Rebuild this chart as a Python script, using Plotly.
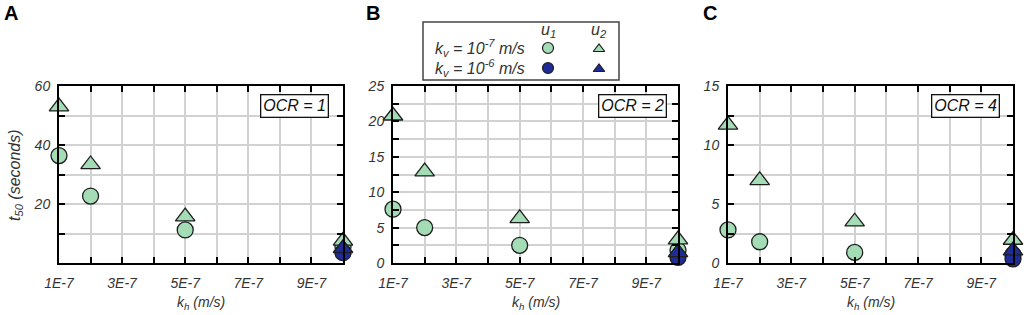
import plotly.graph_objects as go

# ---------------- data ----------------
kh = [1e-7, 2e-7, 5e-7, 1e-6]

# OCR = 1
A_u1_kv7 = [36.4, 22.7, 11.2, 5.5]
A_u2_kv7 = [53.0, 33.4, 15.7, 7.5]
A_u1_kv6 = [3.5]
A_u2_kv6 = [5.0]

# OCR = 2
B_u1_kv7 = [7.6, 5.0, 2.5, 1.8]
B_u2_kv7 = [20.8, 12.9, 6.3, 3.3]
B_u1_kv6 = [0.8]
B_u2_kv6 = [1.5]

# OCR = 4
C_u1_kv7 = [2.8, 1.8, 0.9, 0.7]
C_u2_kv7 = [11.7, 7.0, 3.5, 1.95]
C_u1_kv6 = [0.35]
C_u2_kv6 = [1.05]

kh_kv6 = [1e-6]

panel_letters = ["A", "B", "C"]
ocr_labels = ["OCR = 1", "OCR = 2", "OCR = 4"]
y_max = [60, 25, 15]
y_minor_step = [10, 2.5, 2.5]
y_label_vals = [[20, 40, 60], [0, 5, 10, 15, 20, 25], [0, 5, 10, 15]]
x_label_vals = [1e-7, 3e-7, 5e-7, 7e-7, 9e-7]
x_label_text = ["1E-7", "3E-7", "5E-7", "7E-7", "9E-7"]
x_minor_step = 1e-7

# ---------------- style ----------------
W, H = 1024, 315
GREEN = "#a3dcb5"
BLUE = "#1f2c97"
EDGE = "#1e1e1e"
FONT = "Liberation Sans"
TXT = "#333333"

# pixel boxes of each plot: (left, right)
px_x = [(59, 343), (393, 678), (728, 1013)]
px_top, px_bot = 86, 263


def px2x(p):
    return p / W


def px2y(p):
    return (H - p) / H


fig = go.Figure()
fig.update_layout(template="none")

series = [
    (A_u1_kv7, A_u2_kv7, A_u1_kv6, A_u2_kv6),
    (B_u1_kv7, B_u2_kv7, B_u1_kv6, B_u2_kv6),
    (C_u1_kv7, C_u2_kv7, C_u1_kv6, C_u2_kv6),
]

CIRC = dict(symbol="circle", size=16, line=dict(color=EDGE, width=1.3))
TRI = dict(symbol="triangle-up", size=17, line=dict(color=EDGE, width=1.3))

for i, (u1a, u2a, u1b, u2b) in enumerate(series):
    xa = "x" if i == 0 else f"x{i+1}"
    ya = "y" if i == 0 else f"y{i+1}"
    common = dict(mode="markers", xaxis=xa, yaxis=ya, showlegend=False,
                  cliponaxis=False)
    fig.add_trace(go.Scatter(x=kh, y=u1a, marker=dict(color=GREEN, **CIRC), **common))
    fig.add_trace(go.Scatter(x=kh, y=u2a, marker=dict(color=GREEN, **TRI), **common))
    fig.add_trace(go.Scatter(x=kh_kv6, y=u1b, marker=dict(color=BLUE, **CIRC), **common))
    fig.add_trace(go.Scatter(x=kh_kv6, y=u2b, marker=dict(color=BLUE, **TRI), **common))

    axis_common = dict(showline=True, linecolor="black", linewidth=2, mirror="allticks",
                       ticks="inside", ticklen=6, tickwidth=2, tickcolor="black",
                       showgrid=True, gridcolor="#d2d2d2", gridwidth=1.5, zeroline=False,
                       automargin=False, tickmode="array",
                       tickfont=dict(family=FONT, size=14, color=TXT, style="italic"))
    xkey = "xaxis" if i == 0 else f"xaxis{i+1}"
    ykey = "yaxis" if i == 0 else f"yaxis{i+1}"
    fig.update_layout(**{
        xkey: dict(domain=[px2x(px_x[i][0]), px2x(px_x[i][1])], range=[1e-7, 1e-6],
                   tickvals=x_label_vals, ticktext=x_label_text,
                   minor=dict(tick0=0, dtick=x_minor_step, ticks="inside", ticklen=6,
                              tickwidth=2, tickcolor="black", showgrid=True,
                              gridcolor="#d2d2d2", gridwidth=1.5),
                   anchor=ya, ticklabelstandoff=6, **axis_common),
        ykey: dict(domain=[px2y(px_bot), px2y(px_top)], range=[0, y_max[i]],
                   tickvals=y_label_vals[i], ticktext=[str(v) for v in y_label_vals[i]],
                   minor=dict(tick0=0, dtick=y_minor_step[i], ticks="inside", ticklen=6,
                              tickwidth=2, tickcolor="black", showgrid=True,
                              gridcolor="#d2d2d2", gridwidth=1.5),
                   anchor=xa, ticklabelstandoff=4, **axis_common),
    })

    # x-axis title
    cx = (px_x[i][0] + px_x[i][1]) / 2
    fig.add_annotation(x=px2x(cx), y=px2y(303), xref="paper", yref="paper",
                       text="k<sub>h</sub> (m/s)", showarrow=False,
                       font=dict(family=FONT, size=14, color=TXT, style="italic"),
                       xanchor="center", yanchor="middle")

    # OCR box
    ocr_cx = [294, 632, 965][i]
    fig.add_annotation(x=px2x(ocr_cx), y=px2y(106), xref="paper", yref="paper",
                       text=ocr_labels[i], showarrow=False,
                       font=dict(family=FONT, size=16, color="#111111", style="italic"),
                       bgcolor="white", bordercolor="#111111", borderwidth=1.3, borderpad=2,
                       xanchor="center", yanchor="middle")

    # panel letter
    fig.add_annotation(x=px2x([2, 364, 701][i]), y=px2y(13), xref="paper", yref="paper",
                       text=f"<b>{panel_letters[i]}</b>", showarrow=False,
                       font=dict(family=FONT, size=20, color="black"),
                       xanchor="left", yanchor="middle")

# y-axis title
fig.add_annotation(x=px2x(15), y=px2y(175), xref="paper", yref="paper",
                   text="t<sub>50</sub> (seconds)", showarrow=False, textangle=-90,
                   font=dict(family=FONT, size=16, color=TXT, style="italic"),
                   xanchor="center", yanchor="middle")

# ---------------- custom legend ----------------
leg_box = (423, 619, 22, 80)
fig.add_shape(type="rect", xref="paper", yref="paper",
              x0=px2x(leg_box[0]), x1=px2x(leg_box[1]),
              y0=px2y(leg_box[3]), y1=px2y(leg_box[2]),
              line=dict(color="#444444", width=1.5), fillcolor="rgba(0,0,0,0)", layer="above")

legend_rows = ["k<sub>v</sub> = 10<sup>-7</sup> m/s", "k<sub>v</sub> = 10<sup>-6</sup> m/s"]
legend_colors = [GREEN, BLUE]
legend_cols = ["u<sub>1</sub>", "u<sub>2</sub>"]
row_y = [48, 68]
col_x = [548, 599]

# legend overlay axis in pixel units, restricted to the legend box
fig.update_layout(
    xaxis4=dict(domain=[px2x(leg_box[0]), px2x(leg_box[1])], range=[leg_box[0], leg_box[1]],
                visible=False, anchor="y4", fixedrange=True, automargin=False),
    yaxis4=dict(domain=[px2y(leg_box[3]), px2y(leg_box[2])], range=[leg_box[3], leg_box[2]],
                visible=False, anchor="x4", fixedrange=True, automargin=False),
)
for r, lab in enumerate(legend_rows):
    fig.add_annotation(x=px2x(433), y=px2y(row_y[r]), xref="paper", yref="paper",
                       text=lab, showarrow=False,
                       font=dict(family=FONT, size=16, color=TXT, style="italic"),
                       xanchor="left", yanchor="middle")
    fig.add_trace(go.Scatter(x=[col_x[0]], y=[row_y[r]], xaxis="x4", yaxis="y4", mode="markers",
                             marker=dict(symbol="circle", size=11, color=legend_colors[r],
                                         line=dict(color=EDGE, width=1.2)),
                             showlegend=False, hoverinfo="skip", cliponaxis=False))
    fig.add_trace(go.Scatter(x=[col_x[1]], y=[row_y[r] + 1], xaxis="x4", yaxis="y4", mode="markers",
                             marker=dict(symbol="triangle-up", size=10, color=legend_colors[r],
                                         line=dict(color=EDGE, width=1.2)),
                             showlegend=False, hoverinfo="skip", cliponaxis=False))
for c, lab in enumerate(legend_cols):
    fig.add_annotation(x=px2x(col_x[c]), y=px2y(31), xref="paper", yref="paper",
                       text=lab, showarrow=False,
                       font=dict(family=FONT, size=16, color=TXT, style="italic"),
                       xanchor="center", yanchor="middle")

fig.update_layout(width=W, height=H, margin=dict(l=0, r=0, t=0, b=0, pad=0),
                  paper_bgcolor="white", plot_bgcolor="rgba(0,0,0,0)")

fig.write_html("out.html", config={"displayModeBar": False},
               post_script="document.body.style.margin='0px';")
